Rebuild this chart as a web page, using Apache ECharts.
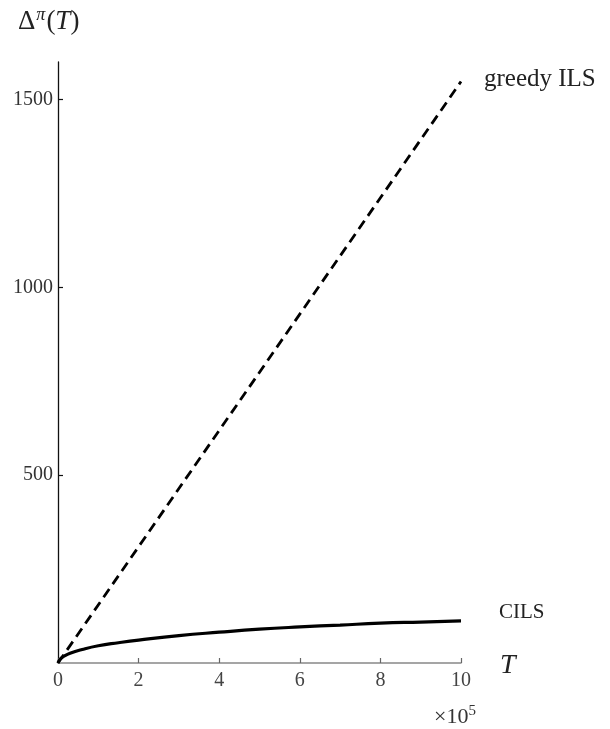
<!DOCTYPE html>
<html>
<head>
<meta charset="utf-8">
<script src="https://cdn.jsdelivr.net/npm/echarts@6/dist/echarts.min.js"></script>
<style>html,body{margin:0;padding:0;background:#fff}#c{width:610px;height:729px}</style>
</head>
<body>
<div id="c"></div>
<script>
var xTicks = [0, 2, 4, 6, 8, 10];
var yTicks = [500, 1000, 1500];
var greedyT = [0, 10];
var greedyVals = [0, 1548];
var cilsT = [0, 0.05, 0.15, 0.3, 0.6, 1, 1.5, 2, 3, 4, 5, 6, 7, 8, 9, 10];
var cilsVals = [0, 10, 18, 26, 36, 46, 54, 61, 73, 82, 90, 96, 101, 106, 109, 112];

var F = '"Liberation Serif", "DejaVu Serif", serif';
var chart = echarts.init(document.getElementById('c'), null, {renderer: 'canvas'});
function zip(a, b) { return a.map(function (v, i) { return [v, b[i]]; }); }
chart.setOption({
  animation: false,
  grid: {left: 58, right: 149, top: 62, bottom: 66, containLabel: false},
  xAxis: {
    type: 'value', min: 0, max: 10, interval: 2,
    axisLine: {show: true, lineStyle: {color: '#888', width: 1.5}},
    axisTick: {show: true, inside: true, length: 5, lineStyle: {color: '#666', width: 1.2}},
    axisLabel: {fontFamily: F, fontSize: 20, color: '#444', margin: 8, formatter: function (v) { return String(v); }},
    splitLine: {show: false}
  },
  yAxis: {
    type: 'value', min: 0, max: 1600,
    axisLine: {show: true, lineStyle: {color: '#111', width: 1.3}},
    axisTick: {show: true, inside: true, length: 5, customValues: yTicks, lineStyle: {color: '#111', width: 1.2}},
    axisLabel: {fontFamily: F, fontSize: 20, color: '#333', margin: 5, customValues: yTicks, formatter: function (v) { return String(v); }},
    splitLine: {show: false}
  },
  series: [
    {
      name: 'greedy ILS', type: 'line', data: zip(greedyT, greedyVals), showSymbol: false,
      lineStyle: {color: '#000', width: 2.8, type: [10, 6]},
      endLabel: {show: true, formatter: '{a}', fontFamily: F, fontSize: 25, color: '#222', distance: 23, offset: [0, -2]}
    },
    {
      name: 'CILS', type: 'line', data: zip(cilsT, cilsVals), showSymbol: false, smooth: true,
      lineStyle: {color: '#000', width: 3.2},
      endLabel: {show: true, formatter: '{a}', fontFamily: F, fontSize: 21, color: '#222', distance: 38, offset: [0, -8]}
    }
  ],
  graphic: [
    {type: 'text', left: 18, top: 6, style: {
      text: '{d|Δ}{s|π}{d|(}{i|T}{d|)}',
      rich: {
        d: {fontFamily: F, fontSize: 27, fill: '#222'},
        i: {fontFamily: F, fontSize: 27, fontStyle: 'italic', fill: '#222'},
        s: {fontFamily: F, fontSize: 18, fontStyle: 'italic', fill: '#222', verticalAlign: 'top', padding: [0, 1, 14, 1]}
      }
    }},
    {type: 'text', left: 500, top: 652, style: {
      text: 'T', fontFamily: F, fontStyle: 'italic', fontSize: 28, fill: '#222'
    }},
    {type: 'text', left: 434, top: 704, style: {
      text: '{d|×10}{s|5}',
      rich: {
        d: {fontFamily: F, fontSize: 22, fill: '#333'},
        s: {fontFamily: F, fontSize: 15, fill: '#333', padding: [0, 0, 12, 0]}
      }
    }}
  ]
});
</script>
</body>
</html>
